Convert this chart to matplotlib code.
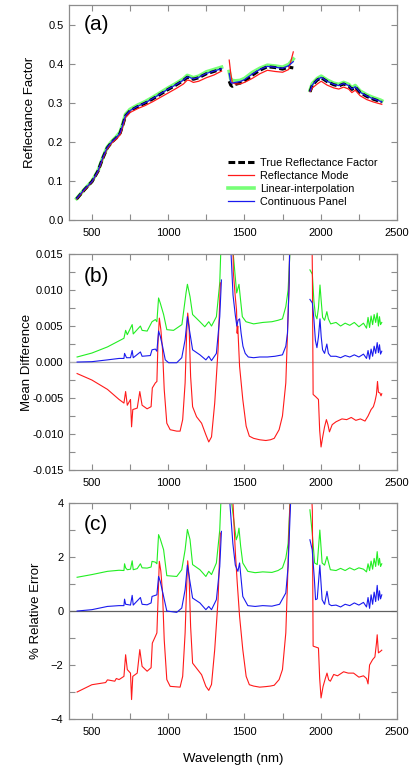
import numpy as np
import matplotlib
matplotlib.use('Agg')
import matplotlib.pyplot as plt
import matplotlib.ticker as plticker

plt.rcParams['font.family'] = ['Liberation Sans', 'DejaVu Sans']

nan = np.nan

# ---- panel (a): reflectance factor, three spectral segments split by NaN ----
wl_a = [400, 450, 500, 540, 570, 600, 630, 660, 685, 700, 720, 750, 800, 850, 900, 950, 1000,
        1050, 1100, 1125, 1140, 1165, 1200, 1250, 1300, 1350,
        1375,
        1400, 1410, 1420, 1440, 1470, 1500, 1550, 1600, 1650, 1700, 1750, 1790, 1820,
        1880,
        1930, 1945, 1977, 2003, 2042, 2085, 2118, 2150, 2183, 2204, 2226, 2258, 2302, 2345, 2390, 2400]
true_a = [0.054, 0.077, 0.098, 0.125, 0.157, 0.184, 0.199, 0.210, 0.222, 0.240, 0.266, 0.279, 0.290,
          0.299, 0.310, 0.322, 0.334, 0.345, 0.357, 0.365, 0.364, 0.360, 0.364, 0.374, 0.380, 0.386,
          nan,
          0.355, 0.345, 0.342, 0.347, 0.350, 0.355, 0.370, 0.383, 0.392, 0.390, 0.386, 0.391, 0.389,
          nan,
          0.328, 0.345, 0.358, 0.364, 0.354, 0.346, 0.343, 0.348, 0.343, 0.334, 0.340, 0.326, 0.316,
          0.309, 0.303, 0.301]
refl_a = [0.054, 0.076, 0.097, 0.123, 0.155, 0.182, 0.197, 0.207, 0.218, 0.235, 0.262, 0.275, 0.285,
          0.293, 0.303, 0.314, 0.325, 0.336, 0.348, 0.358, 0.357, 0.352, 0.355, 0.364, 0.371, 0.381,
          nan,
          0.409, 0.375, 0.352, 0.348, 0.348, 0.352, 0.362, 0.374, 0.383, 0.380, 0.378, 0.385, 0.430,
          nan,
          0.328, 0.338, 0.348, 0.355, 0.345, 0.338, 0.335, 0.340, 0.335, 0.326, 0.332, 0.318, 0.308,
          0.302, 0.297, 0.296]
lin_a = [0.055, 0.078, 0.099, 0.126, 0.158, 0.186, 0.201, 0.213, 0.225, 0.243, 0.270, 0.283, 0.294,
         0.303, 0.314, 0.326, 0.338, 0.349, 0.361, 0.370, 0.368, 0.364, 0.368, 0.379, 0.385, 0.391,
         nan,
         0.380, 0.360, 0.357, 0.356, 0.357, 0.362, 0.377, 0.388, 0.396, 0.394, 0.391, 0.398, 0.412,
         nan,
         0.332, 0.349, 0.362, 0.368, 0.358, 0.350, 0.347, 0.352, 0.347, 0.338, 0.344, 0.330, 0.320,
         0.313, 0.307, 0.305]
cont_a = [0.055, 0.078, 0.098, 0.125, 0.158, 0.185, 0.200, 0.211, 0.223, 0.241, 0.267, 0.280, 0.291,
          0.300, 0.311, 0.323, 0.335, 0.346, 0.358, 0.366, 0.365, 0.361, 0.365, 0.375, 0.381, 0.387,
          nan,
          0.375, 0.352, 0.350, 0.352, 0.354, 0.359, 0.373, 0.385, 0.393, 0.391, 0.388, 0.395, 0.405,
          nan,
          0.330, 0.346, 0.359, 0.365, 0.355, 0.347, 0.344, 0.349, 0.344, 0.335, 0.341, 0.327, 0.317,
          0.310, 0.304, 0.302]

# ---- panel (b): mean difference ----
wl_b_red = [403, 500, 602, 678, 710, 721, 732, 753, 760, 768, 797, 814, 829, 862, 888, 896, 916, 926,
            933, 942, 952, 963, 974, 991, 1013, 1056, 1078, 1095, 1111, 1121, 1128, 1137, 1147, 1160,
            1186, 1219, 1247, 1266, 1284, 1305, 1327, 1342,
            1375,
            1418, 1427, 1440, 1448, 1452, 1456, 1468, 1489, 1511, 1532, 1560, 1600, 1640, 1670, 1695,
            1727, 1749, 1771, 1782, 1793, 1805,
            1880,
            1935, 1945, 1950, 1966, 1985, 1993, 2002, 2012, 2025, 2037, 2047, 2057, 2075, 2100, 2139,
            2170, 2200, 2230, 2260, 2290, 2310, 2330, 2345, 2355, 2365, 2372, 2378, 2388, 2395, 2400]
red_b = [-0.0016, -0.0025, -0.0038, -0.0052, -0.0057, -0.0041, -0.0060, -0.0052, -0.0090, -0.0066,
         -0.0064, -0.0041, -0.0060, -0.0065, -0.0062, -0.0036, -0.0029, -0.0027, 0.0026, 0.0061,
         0.0045, 0.0017, -0.0038, -0.0085, -0.0094, -0.0096, -0.0096, -0.0080, -0.0029, 0.0040,
         0.0068, 0.0050, -0.0020, -0.0062, -0.0076, -0.0085, -0.0101, -0.0111, -0.0104, -0.0057,
         0.0017, 0.0110,
         nan,
         0.0300, 0.0125, 0.0090, 0.0072, 0.0040, 0.0050, -0.0006, -0.0052, -0.0089, -0.0103, -0.0106,
         -0.0108, -0.0109, -0.0108, -0.0106, -0.0094, -0.0075, -0.0029, 0.0040, 0.0110, 0.0300,
         nan,
         0.0300, 0.0128, -0.0045, -0.0048, -0.0052, -0.0095, -0.0118, -0.0105, -0.0090, -0.0080,
         -0.0087, -0.0097, -0.0087, -0.0083, -0.0079, -0.0080, -0.0077, -0.0081, -0.0079, -0.0082,
         -0.0075, -0.0066, -0.0062, -0.0055, -0.0045, -0.0027, -0.0042, -0.0043, -0.0047, -0.0044]

wl_b_green = [403, 500, 602, 710, 721, 732, 764, 771, 818, 829, 862, 894, 916, 926, 937, 948, 970,
              991, 1035, 1090, 1117, 1126, 1143, 1160, 1208, 1240, 1266, 1284, 1316, 1338, 1352,
              1375,
              1410, 1424, 1449, 1464, 1475, 1486, 1510, 1560, 1620, 1680, 1720, 1749, 1771, 1786, 1799,
              1810,
              1880,
              1929, 1945, 1955, 1965, 1975, 1985, 1995, 2003, 2012, 2025, 2040, 2050, 2065, 2100, 2130,
              2160, 2190, 2220, 2250, 2280, 2300, 2310, 2320, 2330, 2340, 2350, 2360, 2370, 2378, 2385,
              2392, 2400]
green_b = [0.0007, 0.00125, 0.0021, 0.0033, 0.0044, 0.0038, 0.0052, 0.0039, 0.0050, 0.0044, 0.0043,
           0.0056, 0.0059, 0.0056, 0.0089, 0.0082, 0.0066, 0.0045, 0.0044, 0.0052, 0.0096, 0.0108,
           0.0091, 0.0066, 0.0056, 0.0049, 0.0056, 0.0050, 0.0063, 0.0110, 0.0200,
           nan,
           0.0300, 0.0156, 0.0096, 0.0108, 0.0085, 0.0063, 0.0056, 0.0053, 0.0055, 0.0056, 0.0058,
           0.0060, 0.0077, 0.0100, 0.0156, 0.0300,
           nan,
           0.0128, 0.0122, 0.0085, 0.0065, 0.0060, 0.0075, 0.0107, 0.0085, 0.0062, 0.0058, 0.0070,
           0.0060, 0.0053, 0.0055, 0.0050, 0.0054, 0.0051, 0.0055, 0.0049, 0.0054, 0.0047, 0.0062,
           0.0048, 0.0064, 0.0052, 0.0066, 0.0055, 0.0068, 0.0050, 0.0063, 0.0052, 0.0055]

wl_b_blue = [403, 500, 602, 678, 710, 714, 727, 753, 764, 771, 818, 829, 883, 894, 916, 926, 937, 948,
             963, 981, 1003, 1056, 1089, 1111, 1126, 1139, 1160, 1208, 1247, 1266, 1284, 1316, 1338,
             1349,
             1375,
             1400, 1410, 1425, 1440, 1450, 1458, 1468, 1478, 1490, 1505, 1525, 1560, 1600, 1650, 1700,
             1749, 1771, 1782, 1793, 1805,
             1880,
             1929, 1945, 1955, 1965, 1975, 1985, 1995, 2003, 2012, 2025, 2040, 2050, 2065, 2100, 2130,
             2160, 2190, 2220, 2250, 2280, 2300, 2310, 2320, 2330, 2340, 2350, 2360, 2370, 2378, 2385,
             2392, 2400]
blue_b = [0.0, 0.00005, 0.0003, 0.0005, 0.0005, 0.0012, 0.0006, 0.0006, 0.0016, 0.0006, 0.0014,
          0.0008, 0.0009, 0.0017, 0.0018, 0.0015, 0.0043, 0.0036, 0.0022, 0.0003, -0.0001, -0.0001,
          0.0006, 0.0031, 0.0063, 0.0045, 0.0017, 0.0010, 0.0003, 0.0008, 0.0002, 0.0012, 0.0063,
          0.0114,
          nan,
          0.0300, 0.0160, 0.0093, 0.0065, 0.0050, 0.0058, 0.0060, 0.0040, 0.0022, 0.0012, 0.0007,
          0.0006, 0.0007, 0.0007, 0.0008, 0.0010, 0.0022, 0.0040, 0.0110, 0.0300,
          nan,
          0.0087, 0.0082, 0.0060, 0.0030, 0.0020, 0.0035, 0.0060, 0.0035, 0.0017, 0.0012, 0.0025,
          0.0012, 0.0008, 0.0008, 0.0006, 0.0009, 0.0007, 0.0010, 0.0007, 0.0011, 0.0005, 0.0016,
          0.0004, 0.0018, 0.0008, 0.0022, 0.0012, 0.0027, 0.0013, 0.0024, 0.0011, 0.0015]

# ---- panel (c): % relative error ----
wl_c_red = [403, 500, 590, 602, 650, 660, 678, 710, 721, 732, 753, 760, 768, 797, 814, 829, 862, 888,
            896, 916, 926, 942, 952, 963, 974, 991, 1013, 1078, 1095, 1111, 1121, 1128, 1137, 1147,
            1160, 1186, 1219, 1247, 1266, 1284, 1305, 1327, 1342,
            1375,
            1418, 1424, 1440, 1452, 1468, 1489, 1511, 1532, 1560, 1600, 1640, 1670, 1695, 1727, 1749,
            1771, 1782, 1793, 1805,
            1880,
            1935, 1945, 1950, 1985, 1993, 2002, 2015, 2030, 2041, 2052, 2063, 2085, 2110, 2150, 2180,
            2215, 2250, 2280, 2300, 2310, 2320, 2340, 2355, 2365, 2370, 2378, 2390, 2400]
red_c = [-3.0, -2.73, -2.65, -2.55, -2.6, -2.5, -2.54, -2.42, -1.62, -2.17, -2.3, -3.28, -2.42, -2.3,
         -1.43, -2.05, -2.23, -2.1, -1.19, -0.94, -0.81, 1.84, 1.47, 0.67, -1.06, -2.54, -2.79, -2.82,
         -2.42, -0.81, 0.91, 1.86, 1.28, -0.57, -1.93, -2.12, -2.36, -2.79, -2.94, -2.72, -1.43, 0.42,
         2.89,
         nan,
         5.0, 4.1, 2.2, 1.1, -0.2, -1.43, -2.42, -2.73, -2.78, -2.82, -2.8, -2.78, -2.75, -2.54, -2.17,
         -0.81, 1.04, 3.14, 5.0,
         nan,
         5.0, 3.7, -1.3, -1.37, -2.5, -3.22, -2.8, -2.5, -2.3, -2.55, -2.6, -2.35, -2.4, -2.25, -2.3,
         -2.3, -2.45, -2.4, -2.5, -2.7, -2.0, -1.8, -1.7, -1.2, -0.88, -1.55, -1.5, -1.45]

wl_c_green = [403, 500, 602, 678, 710, 714, 721, 732, 753, 764, 771, 797, 818, 829, 862, 888, 894, 916,
              926, 937, 948, 970, 991, 1056, 1089, 1111, 1126, 1143, 1160, 1208, 1247, 1266, 1284,
              1316, 1338, 1352,
              1375,
              1405, 1414, 1446, 1456, 1464, 1475, 1489, 1522, 1570, 1620, 1680, 1720, 1749, 1771, 1786,
              1799, 1810,
              1880,
              1929, 1944, 1960, 1977, 1994, 2009, 2025, 2041, 2063, 2100, 2130, 2160, 2190, 2220, 2250,
              2280, 2300, 2310, 2320, 2330, 2340, 2350, 2360, 2370, 2378, 2385, 2392, 2400]
green_c = [1.25, 1.35, 1.47, 1.51, 1.5, 1.75, 1.6, 1.53, 1.55, 1.86, 1.53, 1.57, 1.75, 1.6, 1.59, 1.63,
           1.84, 1.81, 1.75, 2.83, 2.67, 2.27, 1.31, 1.28, 1.53, 2.27, 3.02, 2.65, 1.72, 1.53, 1.28,
           1.47, 1.35, 1.78, 3.0, 5.0,
           nan,
           5.0, 4.1, 2.64, 2.8, 3.07, 2.4, 1.78, 1.47, 1.42, 1.45, 1.43, 1.5, 1.6, 1.96, 2.5, 4.1, 5.0,
           nan,
           3.75, 2.9, 1.78, 1.72, 3.0, 1.78, 1.7, 2.02, 1.53, 1.5, 1.58, 1.5, 1.6, 1.52, 1.6, 1.55, 1.45,
           1.75, 1.5, 1.85, 1.55, 1.95, 1.65, 2.2, 1.7, 1.95, 1.65, 1.75]

wl_c_blue = [403, 500, 602, 678, 710, 714, 721, 753, 764, 771, 818, 829, 862, 888, 894, 926, 937, 948,
             970, 991, 1056, 1089, 1111, 1126, 1139, 1160, 1208, 1247, 1266, 1284, 1316, 1338, 1349,
             1375,
             1400, 1403, 1424, 1440, 1457, 1468, 1489, 1522, 1570, 1620, 1680, 1730, 1771, 1786, 1803,
             1810,
             1880,
             1929, 1944, 1958, 1966, 1977, 1994, 2009, 2025, 2041, 2055, 2070, 2100, 2130, 2160, 2190,
             2220, 2250, 2280, 2300, 2310, 2320, 2330, 2340, 2350, 2360, 2370, 2378, 2385, 2392, 2400]
blue_c = [0.0, 0.05, 0.17, 0.2, 0.2, 0.44, 0.25, 0.22, 0.58, 0.22, 0.5, 0.25, 0.23, 0.3, 0.54, 0.6,
          1.28, 1.1, 0.54, 0.0, -0.05, 0.11, 0.79, 1.7, 1.22, 0.48, 0.3, 0.05, 0.17, 0.05, 0.42, 1.65,
          2.95,
          nan,
          5.0, 4.1, 2.5, 1.7, 1.47, 1.78, 0.54, 0.2, 0.17, 0.2, 0.18, 0.25, 0.67, 1.65, 4.1, 5.0,
          nan,
          2.64, 2.27, 1.2, 0.42, 0.45, 1.7, 0.42, 0.25, 0.73, 0.25, 0.2, 0.22, 0.15, 0.25, 0.2, 0.3,
          0.22, 0.32, 0.15, 0.5, 0.1, 0.6, 0.25, 0.7, 0.35, 0.95, 0.4, 0.75, 0.45, 0.6]

RED = '#ff1a1a'
GREEN = '#22ee22'
BLUE = '#1a1aee'
EDGE = '#8c8c8c'

fig = plt.figure(figsize=(4.15, 7.68), dpi=100)
ax1 = fig.add_axes([0.1663, 0.7135, 0.7904, 0.2800])
ax2 = fig.add_axes([0.1663, 0.3880, 0.7904, 0.2812])
ax3 = fig.add_axes([0.1663, 0.0638, 0.7904, 0.2812])


def style_axis(ax):
    ax.set_xlim(350, 2500)
    ax.xaxis.set_major_locator(plticker.MultipleLocator(500))
    ax.xaxis.set_minor_locator(plticker.MultipleLocator(250))
    for s in ax.spines.values():
        s.set_color(EDGE)
        s.set_linewidth(0.9)
    ax.tick_params(which='both', direction='in', top=True, right=True, length=4,
                   width=0.8, color=EDGE, labelsize=8, pad=4)
    ax.tick_params(axis='x', which='major', pad=6)


# (a)
h_lin, = ax1.plot(wl_a, lin_a, color='#77ff77', lw=2.6)
h_true, = ax1.plot(wl_a, true_a, color='black', lw=2.2, dashes=(2.2, 1.0))
h_refl, = ax1.plot(wl_a, refl_a, color=RED, lw=0.9)
h_cont, = ax1.plot(wl_a, cont_a, color=BLUE, lw=0.9)
ax1.set_ylim(0, 0.55)
ax1.yaxis.set_major_locator(plticker.MultipleLocator(0.1))
ax1.yaxis.set_major_formatter(plticker.FormatStrFormatter('%.1f'))
style_axis(ax1)
ax1.set_ylabel('Reflectance Factor', fontsize=9.5)
ax1.yaxis.set_label_coords(-0.10, 0.5)
ax1.text(0.045, 0.955, '(a)', transform=ax1.transAxes, fontsize=15, va='top')
ax1.legend([h_true, h_refl, h_lin, h_cont],
           ['True Reflectance Factor', 'Reflectance Mode', 'Linear-interpolation', 'Continuous Panel'],
           loc='upper left', bbox_to_anchor=(0.47, 0.31), frameon=False, fontsize=7.8,
           handlelength=2.4, handletextpad=0.6, labelspacing=0.28, borderaxespad=0)

# (b)
ax2.axhline(0, color='#b0b0b0', lw=0.9)
ax2.plot(wl_b_green, green_b, color=GREEN, lw=0.8)
ax2.plot(wl_b_red, red_b, color=RED, lw=0.8)
ax2.plot(wl_b_blue, blue_b, color=BLUE, lw=0.8)
ax2.set_ylim(-0.015, 0.015)
ax2.yaxis.set_major_locator(plticker.MultipleLocator(0.005))
ax2.yaxis.set_minor_locator(plticker.MultipleLocator(0.0025))
ax2.yaxis.set_major_formatter(plticker.FormatStrFormatter('%.3f'))
style_axis(ax2)
ax2.set_ylabel('Mean Difference', fontsize=9.5)
ax2.yaxis.set_label_coords(-0.11, 0.5)
ax2.text(0.045, 0.94, '(b)', transform=ax2.transAxes, fontsize=15, va='top')

# (c)
ax3.axhline(0, color='#606060', lw=0.9)
ax3.plot(wl_c_green, green_c, color=GREEN, lw=0.8)
ax3.plot(wl_c_red, red_c, color=RED, lw=0.8)
ax3.plot(wl_c_blue, blue_c, color=BLUE, lw=0.8)
ax3.set_ylim(-4, 4)
ax3.yaxis.set_major_locator(plticker.MultipleLocator(2))
ax3.yaxis.set_minor_locator(plticker.MultipleLocator(1))
style_axis(ax3)
ax3.set_ylabel('% Relative Error', fontsize=9.5)
ax3.yaxis.set_label_coords(-0.082, 0.5)
ax3.set_xlabel('Wavelength (nm)', fontsize=9.5, labelpad=11)
ax3.text(0.045, 0.945, '(c)', transform=ax3.transAxes, fontsize=15, va='top')

plt.savefig('out.png', dpi=100)
